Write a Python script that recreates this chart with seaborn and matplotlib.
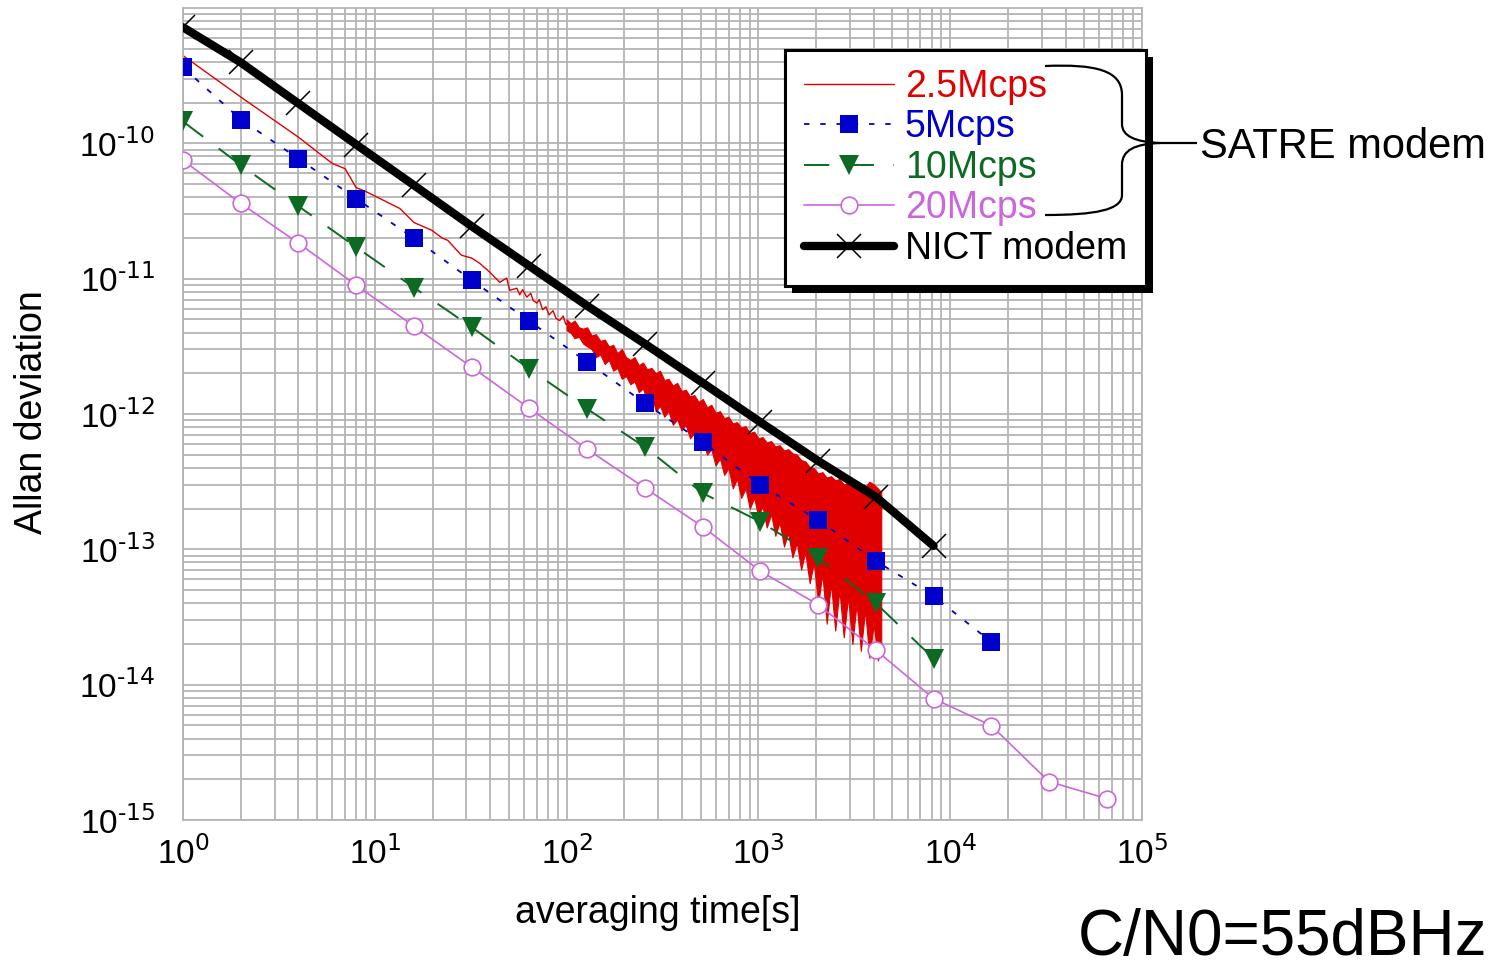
import matplotlib
matplotlib.use("Agg")
import matplotlib.pyplot as plt
from matplotlib.lines import Line2D
from matplotlib.patches import Rectangle, PathPatch
from matplotlib.path import Path
from matplotlib.ticker import FixedLocator, FuncFormatter, LogLocator, NullFormatter
from matplotlib.transforms import IdentityTransform
import numpy as np
import seaborn as sns

W, H = 1510, 960

# averaging times (octave steps)
tau_oct = [1, 2, 4, 8, 16, 32, 64, 128, 256, 512, 1024, 2048, 4096,
           8192, 16384, 32768, 65536]

nict = [7.2e-10, 3.96e-10, 1.97e-10, 9.8e-11, 4.9e-11, 2.44e-11, 1.24e-11,
        6.3e-12, 3.3e-12, 1.7e-12, 8.7e-13, 4.5e-13, 2.44e-13, 1.06e-13]
mcps5 = [3.64e-10, 1.5e-10, 7.7e-11, 3.9e-11, 1.99e-11, 9.75e-12, 4.85e-12,
         2.42e-12, 1.2e-12, 6.2e-13, 2.99e-13, 1.65e-13, 8.2e-14, 4.5e-14,
         2.07e-14]
mcps10 = [1.45e-10, 6.9e-11, 3.43e-11, 1.71e-11, 8.6e-12, 4.38e-12, 2.15e-12,
          1.09e-12, 5.7e-13, 2.6e-13, 1.6e-13, 8.65e-14, 4.0e-14, 1.56e-14]
mcps20 = [7.5e-11, 3.6e-11, 1.83e-11, 8.95e-12, 4.45e-12, 2.22e-12, 1.1e-12,
          5.5e-13, 2.84e-13, 1.47e-13, 6.9e-14, 3.9e-14, 1.8e-14, 7.9e-15,
          4.98e-15, 1.92e-15, 1.44e-15]

# 2.5Mcps: dense trace, low-tau part as a line
red_tau = [1, 2, 4, 6, 7, 8, 9, 13.5, 16, 19.8, 22.4, 24, 28.3, 32, 35.2,
           39.7, 44.8, 48.7, 50.5, 55, 57, 59, 62, 65, 67, 70, 72, 75, 78,
           81, 85, 88, 92, 96, 99, 103]
red_adev = [4.45e-10, 2.2e-10, 1.11e-10, 7.1e-11, 6.5e-11, 4.7e-11, 4.4e-11,
            3.3e-11, 2.6e-11, 2.28e-11, 2.0e-11, 1.92e-11, 1.49e-11, 1.42e-11,
            1.3e-11, 1.12e-11, 9.4e-12, 1.01e-11, 8.2e-12, 8.5e-12, 7.6e-12,
            8.3e-12, 7.3e-12, 7.8e-12, 6.9e-12, 6.6e-12, 7.0e-12, 5.9e-12,
            6.2e-12, 5.4e-12, 5.8e-12, 5.1e-12, 4.9e-12, 5.3e-12, 4.6e-12,
            4.7e-12]

# 2.5Mcps: noisy high-tau part, upper / lower envelope of the trace
band_tau = [100, 105, 110, 116, 122, 128, 135, 142, 150, 158,
            166, 175, 184, 194, 204, 215, 226, 238, 250, 263,
            277, 292, 307, 323, 340, 358, 377, 397, 418, 440,
            463, 487, 513, 540, 568, 598, 630, 663, 698, 735,
            773, 814, 857, 902, 950, 1000, 1050, 1105, 1165, 1225,
            1290, 1360, 1430, 1505, 1585, 1670, 1755, 1850, 1945, 2050,
            2155, 2270, 2390, 2515, 2645, 2785, 2935, 3090, 3250, 3420,
            3600, 3790, 3990, 4200, 4370]
band_hi = [5.01e-12, 4.68e-12, 4.90e-12, 4.37e-12, 4.27e-12, 4.37e-12,
           3.80e-12, 3.89e-12, 3.47e-12, 3.55e-12,
           3.16e-12, 3.24e-12, 2.82e-12, 3.02e-12, 2.63e-12, 2.51e-12,
           2.63e-12, 2.29e-12, 2.40e-12, 2.14e-12,
           2.19e-12, 2.00e-12, 2.09e-12, 1.78e-12, 1.82e-12, 1.62e-12,
           1.70e-12, 1.48e-12, 1.51e-12, 1.35e-12,
           1.38e-12, 1.23e-12, 1.29e-12, 1.12e-12, 1.17e-12, 1.02e-12,
           1.05e-12, 9.33e-13, 9.55e-13, 8.51e-13,
           8.71e-13, 7.94e-13, 8.13e-13, 7.24e-13, 7.41e-13, 6.61e-13,
           6.76e-13, 6.17e-13, 6.31e-13, 5.75e-13,
           5.89e-13, 5.37e-13, 5.50e-13, 5.13e-13, 5.01e-13, 4.57e-13,
           4.47e-13, 4.07e-13, 3.98e-13, 3.63e-13,
           3.72e-13, 3.39e-13, 3.47e-13, 3.24e-13, 3.31e-13, 3.02e-13,
           3.09e-13, 2.88e-13, 3.02e-13, 2.82e-13,
           2.88e-13, 3.16e-13, 3.02e-13, 2.82e-13, 2.63e-13]
band_lo = [4.17e-12, 3.98e-12, 3.63e-12, 3.72e-12, 3.31e-12, 3.16e-12,
           3.02e-12, 2.63e-12, 2.75e-12, 2.34e-12,
           2.51e-12, 2.09e-12, 2.19e-12, 1.82e-12, 1.91e-12, 1.66e-12,
           1.74e-12, 1.45e-12, 1.55e-12, 1.26e-12,
           1.38e-12, 1.05e-12, 1.15e-12, 9.55e-13, 1.05e-12, 8.32e-13,
           9.12e-13, 7.59e-13, 8.32e-13, 6.61e-13,
           7.24e-13, 5.75e-13, 6.31e-13, 5.01e-13, 5.50e-13, 4.17e-13,
           4.68e-13, 3.55e-13, 3.98e-13, 2.82e-13,
           3.31e-13, 2.40e-13, 2.82e-13, 2.00e-13, 2.40e-13, 1.74e-13,
           2.09e-13, 1.45e-13, 1.82e-13, 1.26e-13,
           1.58e-13, 1.05e-13, 1.32e-13, 8.71e-14, 1.12e-13, 7.08e-14,
           9.55e-14, 5.62e-14, 7.94e-14, 3.98e-14,
           6.61e-14, 2.82e-14, 5.62e-14, 2.51e-14, 5.01e-14, 2.24e-14,
           4.47e-14, 2.00e-14, 3.98e-14, 1.78e-14,
           3.55e-14, 1.58e-14, 2.82e-14, 1.51e-14, 2.00e-14]

y_major = [1e-15, 1e-14, 1e-13, 1e-12, 1e-11, 1e-10]
labels = ["2.5Mcps", "5Mcps", "10Mcps", "20Mcps", "NICT modem"]
colors = ["#e00000", "#0000cc", "#0d6a22", "#cc66dd", "black"]

sns.set_style("white")
plt.rcParams["font.family"] = ["Liberation Sans", "DejaVu Sans"]
plt.rcParams.update({"text.color": "black", "axes.labelcolor": "black",
                     "xtick.color": "black", "ytick.color": "black"})


def fx(x):
    return x / W


def fy(y):
    return 1 - y / H


def pow10(v, pos):
    e = int(round(np.log10(v)))
    return r"$\mathdefault{10^{\text{" + str(e) + r"}}}$"


fig = plt.figure(figsize=(W / 100, H / 100), dpi=100)
ax = fig.add_axes([fx(183), fy(820), fx(1142) - fx(183), fy(8) - fy(820)])
ax.set_xscale("log")
ax.set_yscale("log")

# red trace
sns.lineplot(x=red_tau, y=red_adev, ax=ax, color=colors[0], lw=1.0,
             sort=False, zorder=2)
ax.fill_between(band_tau, band_lo, band_hi, color=colors[0],
                edgecolor=colors[0], lw=0.8, zorder=2)

sns.lineplot(x=tau_oct[:len(mcps20)], y=mcps20, ax=ax, color=colors[3],
             lw=1.2, marker="o", markersize=12, markerfacecolor="white",
             markeredgecolor=colors[3], markeredgewidth=1.2, zorder=3)
sns.lineplot(x=tau_oct[:len(mcps10)], y=mcps10, ax=ax, color=colors[2],
             lw=1.4, linestyle=(0, (13, 10)), marker="v", markersize=14,
             markeredgecolor=colors[2], markeredgewidth=0, zorder=4)
sns.lineplot(x=tau_oct[:len(mcps5)], y=mcps5, ax=ax, color=colors[1],
             lw=1.3, linestyle=(0, (3, 6)), marker="s", markersize=13,
             markeredgecolor=colors[1], markeredgewidth=0, zorder=5)
sns.lineplot(x=tau_oct[:len(nict)], y=nict, ax=ax, color="black", lw=6,
             marker="x", markersize=17, markeredgecolor="black",
             markeredgewidth=1.1, zorder=6)

ax.set_xlim(1, 1e5)
ax.set_ylim(1e-15, 1e-9)
ax.yaxis.set_major_locator(FixedLocator(y_major))
ax.yaxis.set_minor_locator(LogLocator(base=10, subs=np.arange(2, 10), numticks=20))
ax.yaxis.set_minor_formatter(NullFormatter())
ax.xaxis.set_major_formatter(FuncFormatter(pow10))
ax.yaxis.set_major_formatter(FuncFormatter(pow10))
ax.set_axisbelow(True)
ax.grid(which="both", color="#b4b4b4", lw=1.3)
for s in ax.spines.values():
    s.set_color("#b4b4b4")
    s.set_linewidth(1.3)
ax.tick_params(which="both", length=0, labelsize=24)
ax.tick_params(axis="x", pad=12)
ax.tick_params(axis="y", pad=20)

ax.set_xlabel("averaging time[s]", fontsize=27)
ax.set_ylabel("Allan deviation", fontsize=27)
ax.xaxis.set_label_coords((658 - 183) / 959, (820 - 895) / 812)
ax.yaxis.set_label_coords((50 - 183) / 959, (820 - 412) / 812)

# legend
handles = [
    Line2D([], [], color=colors[0], lw=1.0),
    Line2D([], [], color=colors[1], lw=1.3, ls=(0, (3, 6)), marker="s",
           ms=13, mec=colors[1], mew=0),
    Line2D([], [], color=colors[2], lw=1.4, ls=(0, (13, 10)), marker="v",
           ms=14, mec=colors[2], mew=0),
    Line2D([], [], color=colors[3], lw=1.2, marker="o", ms=12, mfc="white",
           mec=colors[3], mew=1.2),
    Line2D([], [], color="black", lw=6, marker="x", ms=17, mec="black",
           mew=1.1),
]
leg = ax.legend(handles, labels, loc="upper left",
                bbox_to_anchor=(fx(785), fy(50)),
                bbox_transform=fig.transFigure, fontsize=27, frameon=True,
                fancybox=False, borderaxespad=0, borderpad=0.5,
                labelspacing=0.12, handlelength=2.4, handletextpad=0.3,
                framealpha=1)
leg.get_frame().set_edgecolor("black")
leg.get_frame().set_linewidth(2.2)
leg.set_zorder(10)
for t, c in zip(leg.get_texts(), colors):
    t.set_color(c)

fig.canvas.draw()
bb = leg.get_window_extent()
shadow = Rectangle((bb.x0 + 7, bb.y0 - 7), bb.width, bb.height,
                   transform=IdentityTransform(), facecolor="black",
                   edgecolor="none", zorder=9)
fig.add_artist(shadow)
fig.add_artist(leg)


# brace pointing at the SATRE label
def px(pts):
    return [(fx(a), fy(b)) for a, b in pts]


brace_top = Path(px([(1045, 66), (1095, 64), (1122, 70), (1122, 95),
                     (1122, 124), (1122, 136), (1135, 142), (1160, 143),
                     (1197, 143)]),
                 [Path.MOVETO, Path.CURVE4, Path.CURVE4, Path.CURVE4,
                  Path.LINETO, Path.CURVE4, Path.CURVE4, Path.CURVE4,
                  Path.LINETO])
brace_bot = Path(px([(1160, 143), (1135, 144), (1122, 150), (1122, 165),
                     (1122, 195), (1122, 210), (1095, 215), (1045, 215)]),
                 [Path.MOVETO, Path.CURVE4, Path.CURVE4, Path.CURVE4,
                  Path.LINETO, Path.CURVE4, Path.CURVE4, Path.CURVE4])
for p in (brace_top, brace_bot):
    fig.add_artist(PathPatch(p, transform=fig.transFigure, fill=False,
                             lw=1.6, edgecolor="black", zorder=12))

fig.text(fx(1200), fy(147), "SATRE modem", fontsize=30, va="center",
         ha="left")
fig.text(fx(1487), fy(955), "C/N0=55dBHz", fontsize=46, va="baseline",
         ha="right")

fig.savefig("out.png", dpi=100)
